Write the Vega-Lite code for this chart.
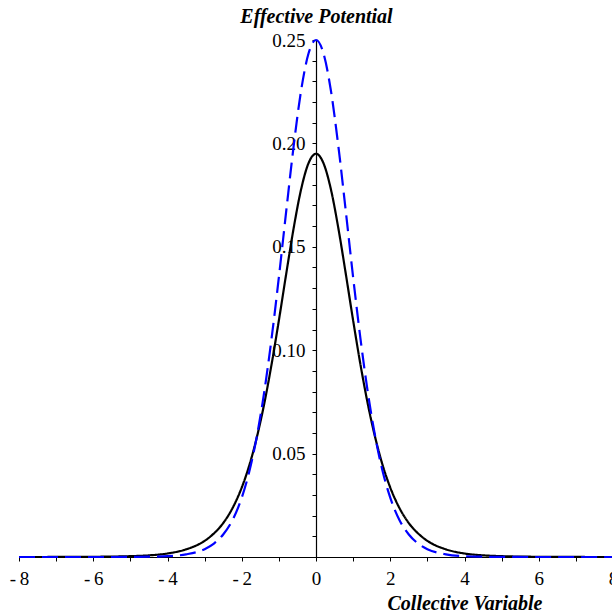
{
  "$schema": "https://vega.github.io/schema/vega-lite/v6.json",
  "autosize": {"type": "none"},
  "padding": {"left": 19, "top": 40, "right": 0, "bottom": 56},
  "width": 594,
  "height": 517,
  "background": "white",
  "config": {"view": {"stroke": null}},
  "data": {"values": [
    {"x": -8, "y": 0.0, "s": "black"}, {"x": -7, "y": 0.00002, "s": "black"}, {"x": -6, "y": 0.0001, "s": "black"}, {"x": -5, "y": 0.0004, "s": "black"}, {"x": -4.5, "y": 0.0008, "s": "black"}, {"x": -4, "y": 0.0017, "s": "black"}, {"x": -3.5, "y": 0.0037, "s": "black"}, {"x": -3, "y": 0.0078, "s": "black"}, {"x": -2.75, "y": 0.0114, "s": "black"}, {"x": -2.5, "y": 0.0164, "s": "black"}, {"x": -2.25, "y": 0.0236, "s": "black"}, {"x": -2, "y": 0.0336, "s": "black"}, {"x": -1.8, "y": 0.0441, "s": "black"}, {"x": -1.6, "y": 0.0574, "s": "black"}, {"x": -1.4, "y": 0.0736, "s": "black"}, {"x": -1.2, "y": 0.0928, "s": "black"}, {"x": -1.0, "y": 0.1144, "s": "black"}, {"x": -0.8, "y": 0.1372, "s": "black"}, {"x": -0.6, "y": 0.1592, "s": "black"}, {"x": -0.4, "y": 0.1779, "s": "black"}, {"x": -0.2, "y": 0.1905, "s": "black"},
    {"x": 0, "y": 0.195, "s": "black"},
    {"x": 0.2, "y": 0.1905, "s": "black"}, {"x": 0.4, "y": 0.1779, "s": "black"}, {"x": 0.6, "y": 0.1592, "s": "black"}, {"x": 0.8, "y": 0.1372, "s": "black"}, {"x": 1.0, "y": 0.1144, "s": "black"}, {"x": 1.2, "y": 0.0928, "s": "black"}, {"x": 1.4, "y": 0.0736, "s": "black"}, {"x": 1.6, "y": 0.0574, "s": "black"}, {"x": 1.8, "y": 0.0441, "s": "black"}, {"x": 2, "y": 0.0336, "s": "black"}, {"x": 2.25, "y": 0.0236, "s": "black"}, {"x": 2.5, "y": 0.0164, "s": "black"}, {"x": 2.75, "y": 0.0114, "s": "black"}, {"x": 3, "y": 0.0078, "s": "black"}, {"x": 3.5, "y": 0.0037, "s": "black"}, {"x": 4, "y": 0.0017, "s": "black"}, {"x": 4.5, "y": 0.0008, "s": "black"}, {"x": 5, "y": 0.0004, "s": "black"}, {"x": 6, "y": 0.0001, "s": "black"}, {"x": 7, "y": 0.00002, "s": "black"}, {"x": 8, "y": 0.0, "s": "black"},
    {"x": -8, "y": 0.0, "s": "blue"}, {"x": -7, "y": 0.0, "s": "blue"}, {"x": -6, "y": 0.0, "s": "blue"}, {"x": -5, "y": 0.00005, "s": "blue"}, {"x": -4.5, "y": 0.00014, "s": "blue"}, {"x": -4, "y": 0.0004, "s": "blue"}, {"x": -3.5, "y": 0.0013, "s": "blue"}, {"x": -3, "y": 0.0038, "s": "blue"}, {"x": -2.75, "y": 0.0065, "s": "blue"}, {"x": -2.5, "y": 0.0109, "s": "blue"}, {"x": -2.25, "y": 0.0178, "s": "blue"}, {"x": -2, "y": 0.0287, "s": "blue"}, {"x": -1.8, "y": 0.0411, "s": "blue"}, {"x": -1.6, "y": 0.0577, "s": "blue"}, {"x": -1.4, "y": 0.0791, "s": "blue"}, {"x": -1.2, "y": 0.1052, "s": "blue"}, {"x": -1.0, "y": 0.1353, "s": "blue"}, {"x": -0.8, "y": 0.1676, "s": "blue"}, {"x": -0.6, "y": 0.199, "s": "blue"}, {"x": -0.4, "y": 0.2257, "s": "blue"}, {"x": -0.2, "y": 0.2436, "s": "blue"},
    {"x": 0, "y": 0.25, "s": "blue"},
    {"x": 0.2, "y": 0.2436, "s": "blue"}, {"x": 0.4, "y": 0.2257, "s": "blue"}, {"x": 0.6, "y": 0.199, "s": "blue"}, {"x": 0.8, "y": 0.1676, "s": "blue"}, {"x": 1.0, "y": 0.1353, "s": "blue"}, {"x": 1.2, "y": 0.1052, "s": "blue"}, {"x": 1.4, "y": 0.0791, "s": "blue"}, {"x": 1.6, "y": 0.0577, "s": "blue"}, {"x": 1.8, "y": 0.0411, "s": "blue"}, {"x": 2, "y": 0.0287, "s": "blue"}, {"x": 2.25, "y": 0.0178, "s": "blue"}, {"x": 2.5, "y": 0.0109, "s": "blue"}, {"x": 2.75, "y": 0.0065, "s": "blue"}, {"x": 3, "y": 0.0038, "s": "blue"}, {"x": 3.5, "y": 0.0013, "s": "blue"}, {"x": 4, "y": 0.0004, "s": "blue"}, {"x": 4.5, "y": 0.00014, "s": "blue"}, {"x": 5, "y": 0.00005, "s": "blue"}, {"x": 6, "y": 0.0, "s": "blue"}, {"x": 7, "y": 0.0, "s": "blue"}, {"x": 8, "y": 0.0, "s": "blue"}
  ]},
  "mark": {"type": "line", "interpolate": "monotone", "strokeWidth": 2.2},
  "encoding": {
    "x": {
      "field": "x", "type": "quantitative",
      "scale": {"domain": [-8, 8], "nice": false, "zero": false},
      "axis": {
        "values": [-8, -7, -6, -5, -4, -3, -2, -1, 0, 1, 2, 3, 4, 5, 6, 7, 8],
        "labelExpr": "datum.value % 2 == 0 ? (datum.value < 0 ? '-\u2009' + abs(datum.value) : '' + datum.value) : ''",
        "grid": false,
        "domainColor": "black", "domainWidth": 1.2,
        "tickColor": "black", "tickSize": 4, "tickWidth": 1,
        "labelFont": "Liberation Serif", "labelFontSize": 19, "labelColor": "black",
        "labelPadding": 8, "labelFlush": false, "labelOverlap": false,
        "title": "Collective Variable",
        "titleFont": "Liberation Serif", "titleFontSize": 20, "titleFontWeight": "bold", "titleFontStyle": "italic", "titleColor": "black",
        "titleX": 445.5, "titleY": 52, "titleAlign": "center", "titleBaseline": "alphabetic", "titleAnchor": null
      }
    },
    "y": {
      "field": "y", "type": "quantitative",
      "scale": {"domain": [0, 0.25], "nice": false},
      "axis": {
        "offset": -297,
        "values": [0.01, 0.02, 0.03, 0.04, 0.05, 0.06, 0.07, 0.08, 0.09, 0.1, 0.11, 0.12, 0.13, 0.14, 0.15, 0.16, 0.17, 0.18, 0.19, 0.2, 0.21, 0.22, 0.23, 0.24, 0.25],
        "labelExpr": "round(datum.value * 100) % 5 == 0 ? format(datum.value, '.2f') : ''",
        "grid": false,
        "domainColor": "black", "domainWidth": 1.2,
        "tickColor": "black", "tickSize": 4, "tickWidth": 1,
        "labelFont": "Liberation Serif", "labelFontSize": 19, "labelColor": "black",
        "labelPadding": 7, "labelFlush": false, "labelOverlap": false,
        "title": "Effective Potential",
        "titleFont": "Liberation Serif", "titleFontSize": 20, "titleFontWeight": "bold", "titleFontStyle": "italic", "titleColor": "black",
        "titleAngle": 0, "titleX": 0, "titleY": -17.5, "titleAlign": "center", "titleBaseline": "alphabetic", "titleAnchor": null
      }
    },
    "color": {"field": "s", "type": "nominal", "scale": {"domain": ["black", "blue"], "range": ["#000000", "#0000ff"]}, "legend": null},
    "strokeDash": {"field": "s", "type": "nominal", "scale": {"domain": ["black", "blue"], "range": [[1, 0], [16, 7]]}, "legend": null},
    "order": {"field": "x", "type": "quantitative"}
  }
}
